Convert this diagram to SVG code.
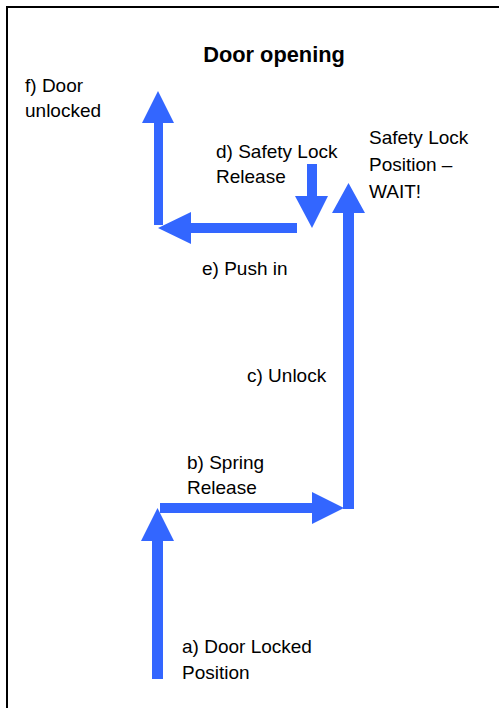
<svg xmlns="http://www.w3.org/2000/svg" width="499" height="708" viewBox="0 0 499 708">
<style>
.t{font-family:"Liberation Sans",Arial,sans-serif;font-size:19px;fill:#000}
.h{font-family:"Liberation Sans",Arial,sans-serif;font-size:21.8px;font-weight:bold;fill:#000}
.a{fill:#3366FF}
</style>
<rect width="499" height="708" fill="#fff"/>
<rect x="7" y="7" width="510" height="720" fill="none" stroke="#000" stroke-width="2"/>
<g id="title"><text class="h" x="274" y="62" text-anchor="middle">Door opening</text></g>
<g id="connectors">
<polygon class="a" points="152,679 163,679 163,541 174,541 157.5,508 141,541 152,541"/>
<polygon class="a" points="160,503 312,503 312,492 344,508 312,524 312,513 160,513"/>
<polygon class="a" points="343,509 354,509 354,213 365,213 348.5,183 332,213 343,213"/>
<polygon class="a" points="307,164 317,164 317,196 328,196 312,228 295,196 307,196"/>
<polygon class="a" points="297,223 297,233 191,233 191,244 158,228 191,212 191,223"/>
<polygon class="a" points="154,225 163,225 163,123 174,123 158,91 142,123 154,123"/>
</g>
<g id="label-f"><text class="t" x="25" y="92">f) Door</text><text class="t" x="25" y="117">unlocked</text></g>
<g id="label-d"><text class="t" x="216" y="158">d) Safety Lock</text><text class="t" x="216" y="183">Release</text></g>
<g id="label-wait"><text class="t" x="369" y="144">Safety Lock</text><text class="t" x="369" y="171">Position –</text><text class="t" x="369" y="198">WAIT!</text></g>
<g id="label-e"><text class="t" x="202" y="275">e) Push in</text></g>
<g id="label-c"><text class="t" x="247" y="382">c) Unlock</text></g>
<g id="label-b"><text class="t" x="187" y="469">b) Spring</text><text class="t" x="187" y="494">Release</text></g>
<g id="label-a"><text class="t" x="182" y="653">a) Door Locked</text><text class="t" x="182" y="679">Position</text></g>
</svg>
